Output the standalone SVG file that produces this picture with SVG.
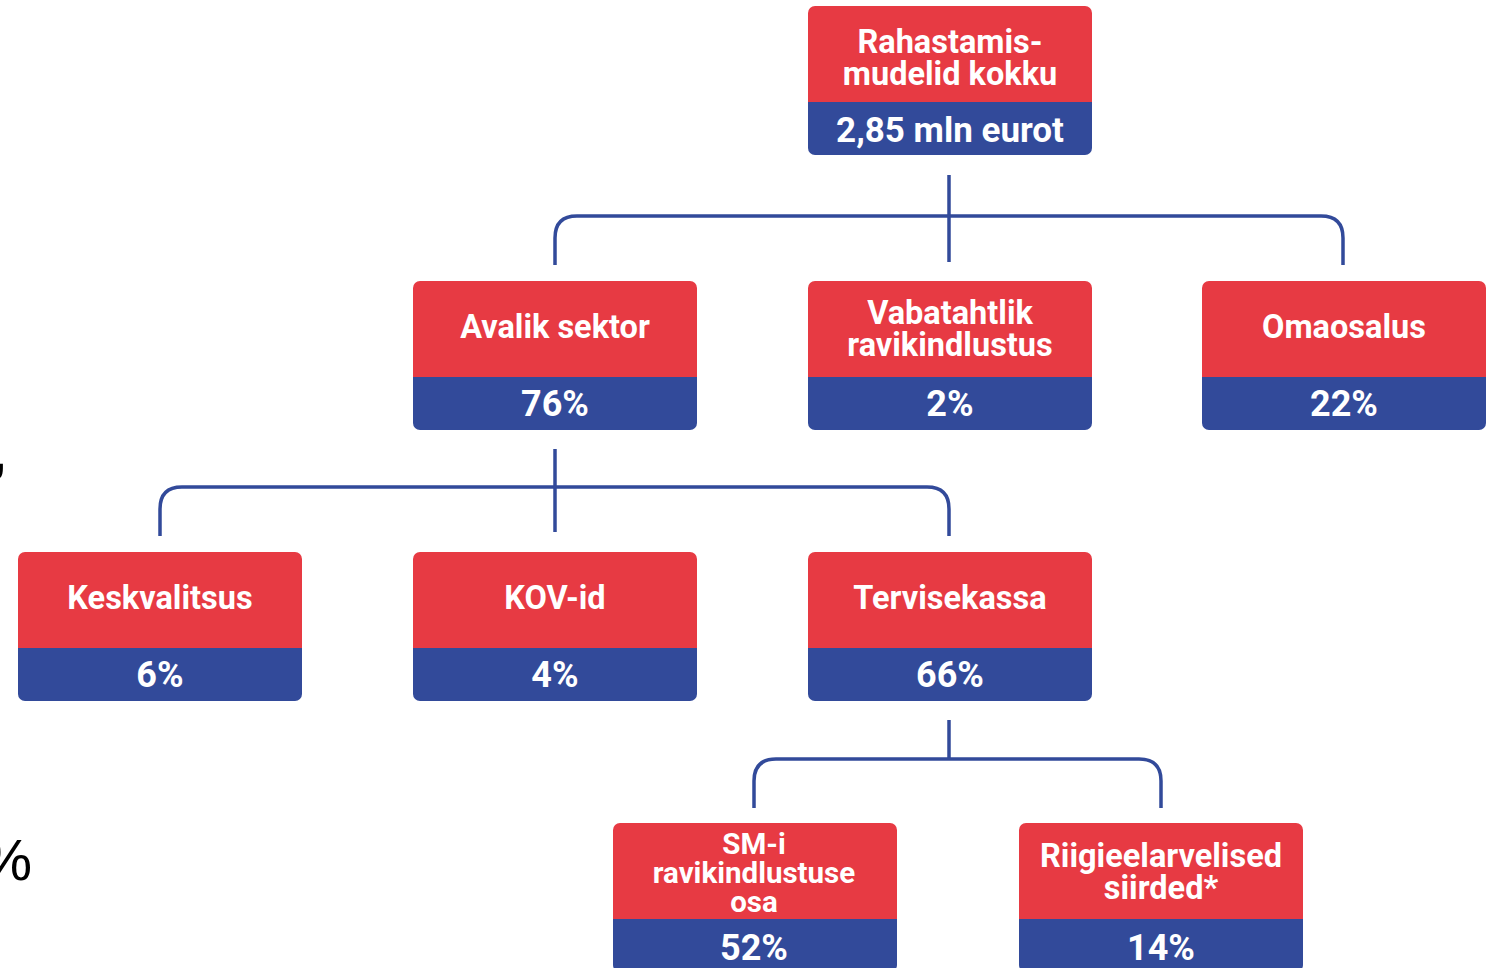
<svg xmlns="http://www.w3.org/2000/svg" width="1496" height="968" viewBox="0 0 1496 968">
<defs>
<style>
.red{fill:#e73a43}
.blue{fill:#324a9a}
.t{font-family:Roboto,"Liberation Sans",sans-serif;font-weight:bold;fill:#ffffff;text-anchor:middle}
.lbl{font-size:32.5px}
.pct{font-size:36px}
.top{font-size:35px}
.sm{font-size:29.5px}
.conn{fill:none;stroke:#324a9a;stroke-width:3.5}
.stray{font-family:"Liberation Sans",Arial,sans-serif;fill:#000;font-size:58px}
</style>
<clipPath id="c"><rect x="0" y="0" width="284" height="149" rx="7"/></clipPath>
</defs>
<rect width="1496" height="968" fill="#ffffff"/>
<text class="stray" x="8" y="470" text-anchor="end">,</text>
<text class="stray" x="32" y="880" text-anchor="end">%</text>
<g id="connectors">
<path class="conn" d="M949 175V262"/>
<path class="conn" d="M555 265V238Q555 216 577 216H1321Q1343 216 1343 238V265"/>
<path class="conn" d="M555 449V532"/>
<path class="conn" d="M160 536V509Q160 487 182 487H927Q949 487 949 509V536"/>
<path class="conn" d="M949 720V759"/>
<path class="conn" d="M754 808V781Q754 759 776 759H1139Q1161 759 1161 781V808"/>
</g>
<g id="n-total" transform="translate(808,6)">
<g clip-path="url(#c)"><rect class="red" width="284" height="97"/><rect class="blue" y="96" width="284" height="53"/></g>
<text class="t lbl" x="142" y="47">Rahastamis-</text>
<text class="t lbl" x="142" y="79">mudelid kokku</text>
<text class="t top" x="142" y="136">2,85 mln eurot</text>
</g>
<g id="n-avalik" transform="translate(413,281)">
<g clip-path="url(#c)"><rect class="red" width="284" height="97"/><rect class="blue" y="96" width="284" height="53"/></g>
<text class="t lbl" x="142" y="57">Avalik sektor</text>
<text class="t pct" x="142" y="135">76%</text>
</g>
<g id="n-vabatahtlik" transform="translate(808,281)">
<g clip-path="url(#c)"><rect class="red" width="284" height="97"/><rect class="blue" y="96" width="284" height="53"/></g>
<text class="t lbl" x="142" y="43">Vabatahtlik</text>
<text class="t lbl" x="142" y="75">ravikindlustus</text>
<text class="t pct" x="142" y="135">2%</text>
</g>
<g id="n-omaosalus" transform="translate(1202,281)">
<g clip-path="url(#c)"><rect class="red" width="284" height="97"/><rect class="blue" y="96" width="284" height="53"/></g>
<text class="t lbl" x="142" y="57">Omaosalus</text>
<text class="t pct" x="142" y="135">22%</text>
</g>
<g id="n-keskvalitsus" transform="translate(18,552)">
<g clip-path="url(#c)"><rect class="red" width="284" height="97"/><rect class="blue" y="96" width="284" height="53"/></g>
<text class="t lbl" x="142" y="57">Keskvalitsus</text>
<text class="t pct" x="142" y="135">6%</text>
</g>
<g id="n-kov" transform="translate(413,552)">
<g clip-path="url(#c)"><rect class="red" width="284" height="97"/><rect class="blue" y="96" width="284" height="53"/></g>
<text class="t lbl" x="142" y="57">KOV-id</text>
<text class="t pct" x="142" y="135">4%</text>
</g>
<g id="n-tervisekassa" transform="translate(808,552)">
<g clip-path="url(#c)"><rect class="red" width="284" height="97"/><rect class="blue" y="96" width="284" height="53"/></g>
<text class="t lbl" x="142" y="57">Tervisekassa</text>
<text class="t pct" x="142" y="135">66%</text>
</g>
<g id="n-smi" transform="translate(613,823)">
<g clip-path="url(#c)"><rect class="red" width="284" height="97"/><rect class="blue" y="96" width="284" height="53"/></g>
<text class="t sm" x="141" y="31">SM-i</text>
<text class="t sm" x="141" y="60">ravikindlustuse</text>
<text class="t sm" x="141" y="89">osa</text>
<text class="t pct" x="141" y="137">52%</text>
</g>
<g id="n-riigieelarvelised" transform="translate(1019,823)">
<g clip-path="url(#c)"><rect class="red" width="284" height="97"/><rect class="blue" y="96" width="284" height="53"/></g>
<text class="t lbl" x="142" y="44">Riigieelarvelised</text>
<text class="t lbl" x="142" y="76">siirded*</text>
<text class="t pct" x="142" y="137">14%</text>
</g>
</svg>
